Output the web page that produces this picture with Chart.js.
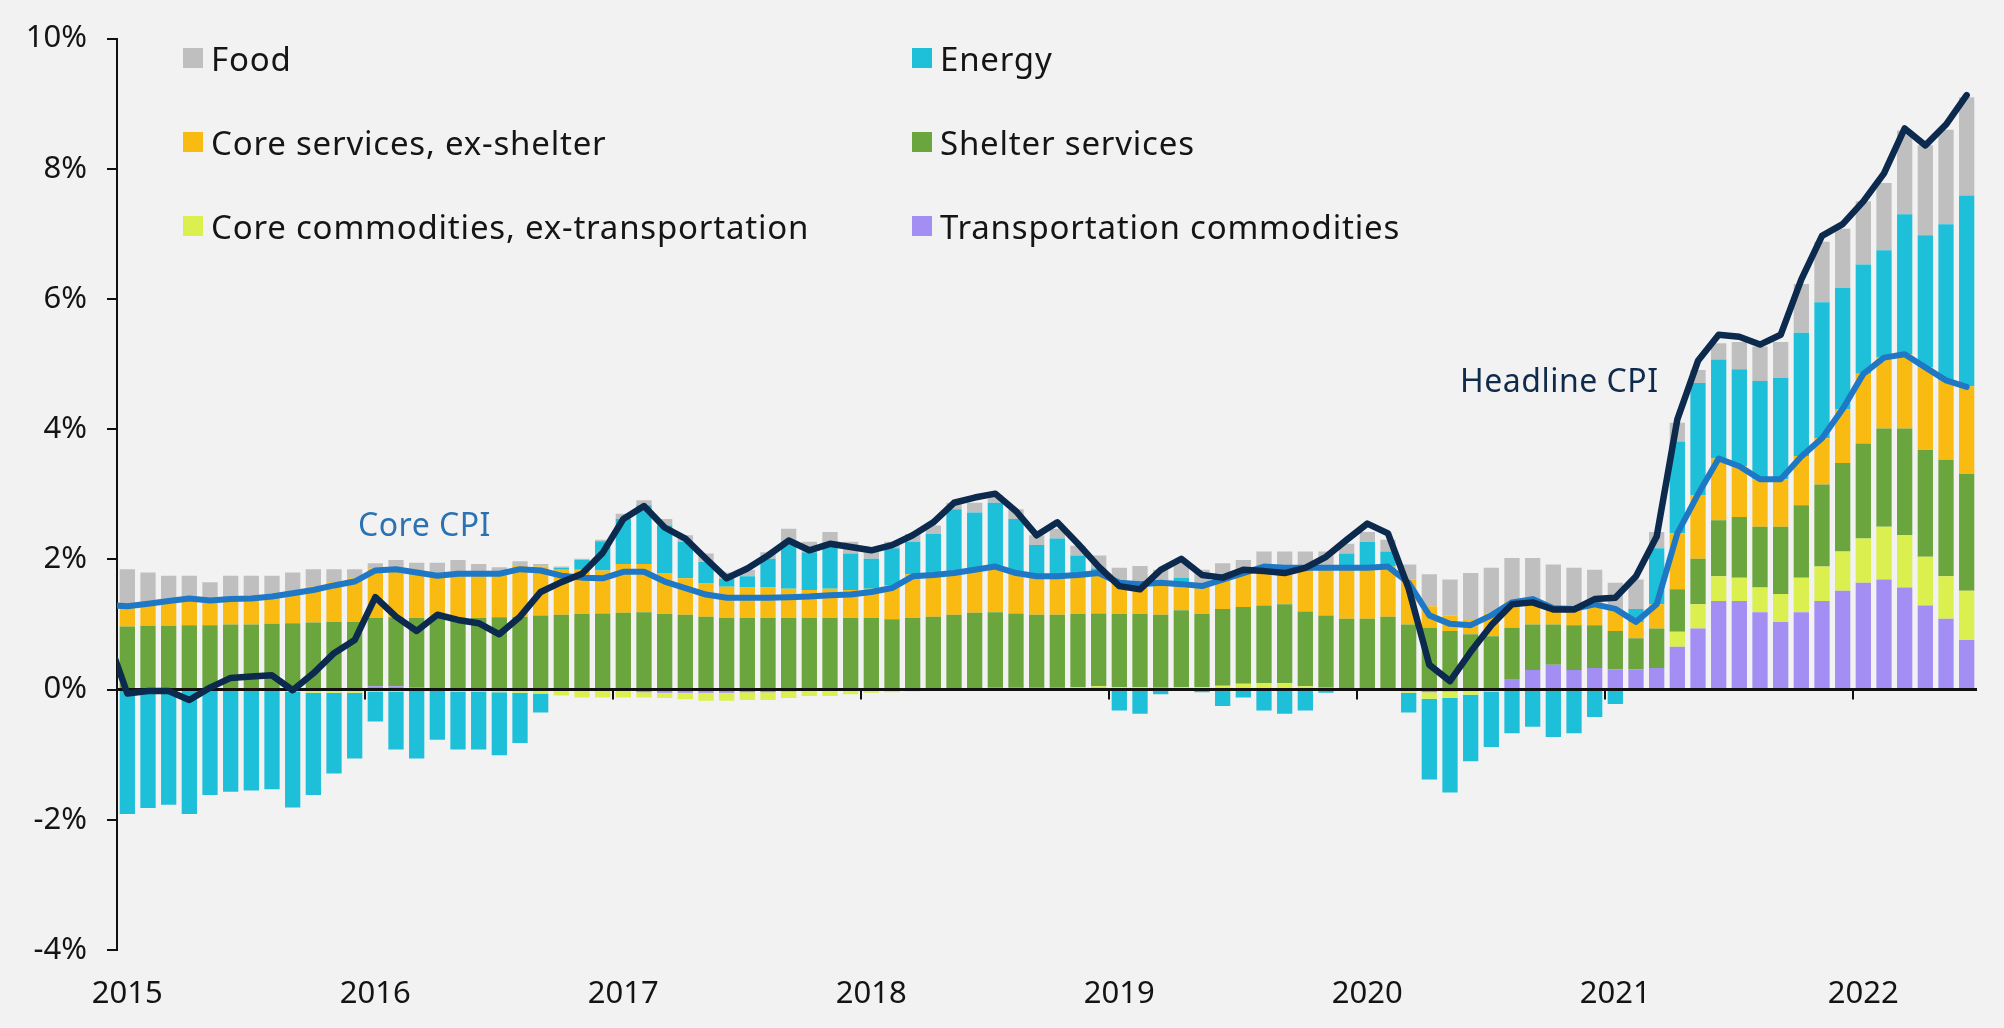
<!DOCTYPE html>
<html>
<head>
<meta charset="utf-8">
<script src="https://cdn.jsdelivr.net/npm/chart.js@4.4.1/dist/chart.umd.min.js"></script>
<style>
html,body{margin:0;padding:0;background:#f2f2f2;}
#wrap{position:relative;width:2004px;height:1028px;font-family:"Noto Sans",sans-serif;overflow:hidden;}
canvas{position:absolute;left:0;top:0;}
.leg{position:absolute;display:flex;align-items:center;height:40px;font-size:33px;color:#151515;white-space:nowrap;letter-spacing:0.8px;}
.leg i{display:inline-block;width:20px;height:20px;margin-right:8px;}
.note{position:absolute;font-size:32px;white-space:nowrap;line-height:1;letter-spacing:0.5px;}
</style>
</head>
<body>
<div id="wrap">
<canvas id="c" width="2004" height="1028"></canvas>
<div id="legend"></div>
<div class="note" style="left:1460px;top:364px;color:#0f2b4b;">Headline CPI</div>
<div class="note" style="left:358px;top:508px;color:#2a72b3;">Core CPI</div>
</div>
<script>
// Months (Dec 2014 only carries the start of the two lines; the axis begins at Jan 2015)
const months = ["Dec 2014",
"Jan 2015","Feb 2015","Mar 2015","Apr 2015","May 2015","Jun 2015","Jul 2015","Aug 2015","Sep 2015","Oct 2015","Nov 2015","Dec 2015",
"Jan 2016","Feb 2016","Mar 2016","Apr 2016","May 2016","Jun 2016","Jul 2016","Aug 2016","Sep 2016","Oct 2016","Nov 2016","Dec 2016",
"Jan 2017","Feb 2017","Mar 2017","Apr 2017","May 2017","Jun 2017","Jul 2017","Aug 2017","Sep 2017","Oct 2017","Nov 2017","Dec 2017",
"Jan 2018","Feb 2018","Mar 2018","Apr 2018","May 2018","Jun 2018","Jul 2018","Aug 2018","Sep 2018","Oct 2018","Nov 2018","Dec 2018",
"Jan 2019","Feb 2019","Mar 2019","Apr 2019","May 2019","Jun 2019","Jul 2019","Aug 2019","Sep 2019","Oct 2019","Nov 2019","Dec 2019",
"Jan 2020","Feb 2020","Mar 2020","Apr 2020","May 2020","Jun 2020","Jul 2020","Aug 2020","Sep 2020","Oct 2020","Nov 2020","Dec 2020",
"Jan 2021","Feb 2021","Mar 2021","Apr 2021","May 2021","Jun 2021","Jul 2021","Aug 2021","Sep 2021","Oct 2021","Nov 2021","Dec 2021",
"Jan 2022","Feb 2022","Mar 2022","Apr 2022","May 2022","Jun 2022"];

// Contributions (percentage points), Jan 2015 .. Jun 2022
const transportation = [
0,0,0,0,0,0,0,0,0,0,0,0,
0.05,0.05,0.03,0.02,0.01,0,0,0,0,-0.01,-0.02,-0.02,
-0.02,-0.04,-0.05,-0.05,-0.05,-0.05,-0.04,-0.04,-0.03,-0.02,-0.02,-0.01,
0,0,0,0,0.01,0.02,0.03,0.03,0.03,0.03,0.03,0.03,
0.02,0.02,0.01,0.01,0.01,0.01,0.01,0,0,0,0,0,
0,0,-0.02,-0.04,-0.03,0,0.02,0.15,0.3,0.38,0.3,0.33,
0.31,0.31,0.33,0.66,0.94,1.36,1.36,1.19,1.04,1.19,1.36,1.52,
1.64,1.69,1.57,1.29,1.09,0.76];

const coreCommodities = [
0,0,0,0,0,0,0,0,-0.03,-0.05,-0.05,-0.05,
-0.03,-0.03,-0.02,-0.02,-0.03,-0.03,-0.04,-0.05,-0.06,-0.08,-0.1,-0.1,
-0.1,-0.08,-0.08,-0.1,-0.12,-0.12,-0.12,-0.12,-0.1,-0.08,-0.08,-0.06,
-0.05,-0.04,-0.03,-0.02,-0.01,0,0,0,0,0,0.01,0.02,
0.02,0.02,0.02,0.03,0.03,0.05,0.08,0.1,0.1,0.05,0.03,0.02,
0,0,-0.03,-0.1,-0.1,-0.08,-0.03,0,0,0,0,0,
0,0,0,0.23,0.37,0.38,0.36,0.38,0.43,0.53,0.53,0.6,
0.68,0.81,0.8,0.75,0.65,0.76];

const shelter = [
0.97,0.98,0.98,0.99,0.99,1.0,1.0,1.01,1.02,1.03,1.04,1.04,
1.05,1.06,1.07,1.08,1.09,1.10,1.11,1.12,1.14,1.15,1.16,1.17,
1.18,1.19,1.16,1.15,1.12,1.10,1.10,1.10,1.10,1.10,1.10,1.10,
1.10,1.08,1.10,1.12,1.14,1.16,1.16,1.14,1.12,1.12,1.12,1.12,
1.12,1.12,1.12,1.18,1.12,1.18,1.18,1.19,1.21,1.15,1.11,1.07,
1.09,1.12,1.0,0.95,0.9,0.85,0.8,0.8,0.7,0.62,0.69,0.66,
0.59,0.48,0.61,0.65,0.70,0.86,0.93,0.93,1.03,1.11,1.26,1.36,
1.46,1.51,1.64,1.64,1.79,1.79];

const coreServices = [
0.31,0.34,0.38,0.41,0.38,0.39,0.40,0.42,0.49,0.55,0.61,0.67,
0.76,0.77,0.72,0.67,0.71,0.71,0.71,0.78,0.75,0.69,0.68,0.66,
0.75,0.74,0.63,0.56,0.51,0.48,0.47,0.47,0.45,0.43,0.45,0.43,
0.45,0.52,0.67,0.66,0.65,0.66,0.70,0.62,0.59,0.59,0.60,0.62,
0.48,0.46,0.49,0.40,0.43,0.45,0.52,0.60,0.56,0.67,0.73,0.78,
0.78,0.77,0.69,0.33,0.24,0.22,0.35,0.39,0.39,0.25,0.25,0.32,
0.34,0.25,0.37,0.86,0.98,0.95,0.78,0.73,0.73,0.76,0.71,0.83,
1.07,1.09,1.14,1.27,1.22,1.35];

const energy = [
-1.91,-1.82,-1.77,-1.91,-1.62,-1.57,-1.55,-1.53,-1.78,-1.57,-1.24,-1.01,
-0.46,-0.89,-1.04,-0.75,-0.89,-0.89,-0.97,-0.77,-0.29,0.03,0.15,0.45,
0.69,0.9,0.73,0.56,0.33,0.12,0.17,0.44,0.67,0.58,0.67,0.56,
0.46,0.57,0.5,0.61,0.97,0.88,0.98,0.83,0.48,0.58,0.30,0.07,
-0.32,-0.37,-0.07,0.1,-0.04,-0.25,-0.12,-0.32,-0.37,-0.32,-0.05,0.22,
0.4,0.23,-0.3,-1.24,-1.45,-1.02,-0.85,-0.67,-0.57,-0.73,-0.67,-0.42,
-0.22,0.2,0.86,1.41,1.72,1.52,1.49,1.51,1.56,1.89,2.09,1.86,
1.68,1.65,2.15,2.03,2.4,2.93];

const food = [
0.57,0.48,0.39,0.35,0.28,0.36,0.35,0.32,0.29,0.27,0.2,0.14,
0.08,0.11,0.13,0.18,0.18,0.12,0.06,0.07,0.04,0.02,0.02,0.02,
0.08,0.08,0.1,0.1,0.13,0.1,0.1,0.1,0.25,0.16,0.2,0.18,
0.12,0.1,0.12,0.13,0.1,0.15,0.12,0.15,0.15,0.15,0.15,0.2,
0.23,0.28,0.2,0.25,0.25,0.25,0.2,0.23,0.25,0.25,0.25,0.15,
0.15,0.18,0.23,0.49,0.55,0.72,0.7,0.68,0.63,0.67,0.63,0.53,
0.4,0.45,0.25,0.29,0.2,0.25,0.42,0.53,0.55,0.75,0.93,0.91,
0.97,1.03,1.29,1.38,1.45,1.51];

// Lines, Dec 2014 .. Jun 2022
const headlineCPI = [0.84,
-0.06,-0.02,-0.02,-0.16,0.03,0.18,0.2,0.22,-0.01,0.25,0.56,0.76,
1.42,1.12,0.9,1.15,1.07,1.02,0.85,1.12,1.5,1.65,1.78,2.1,
2.62,2.82,2.49,2.32,2.01,1.71,1.86,2.06,2.29,2.14,2.24,2.19,
2.14,2.22,2.37,2.57,2.87,2.95,3.01,2.74,2.37,2.57,2.24,1.89,
1.59,1.54,1.84,2.01,1.76,1.72,1.84,1.82,1.79,1.87,2.04,2.3,
2.55,2.4,1.55,0.38,0.13,0.58,0.99,1.31,1.34,1.23,1.23,1.39,
1.41,1.74,2.35,4.15,5.05,5.45,5.42,5.3,5.45,6.3,6.97,7.15,
7.5,7.93,8.62,8.36,8.68,9.13];

const coreCPI = [1.3,
1.28,1.32,1.36,1.40,1.37,1.39,1.40,1.43,1.48,1.53,1.60,1.66,
1.83,1.85,1.80,1.75,1.78,1.78,1.78,1.85,1.83,1.75,1.72,1.71,
1.81,1.81,1.66,1.56,1.46,1.41,1.41,1.41,1.42,1.43,1.45,1.46,
1.50,1.56,1.74,1.76,1.79,1.84,1.89,1.79,1.74,1.74,1.76,1.79,
1.64,1.62,1.64,1.62,1.59,1.69,1.79,1.89,1.87,1.87,1.87,1.87,
1.87,1.89,1.64,1.14,1.01,0.99,1.14,1.34,1.39,1.25,1.24,1.31,
1.24,1.04,1.31,2.40,3.0,3.55,3.43,3.23,3.23,3.58,3.86,4.31,
4.85,5.1,5.15,4.95,4.75,4.65];

const yTicks = [-4, -2, 0, 2, 4, 6, 8, 10];

const barSeries = [
  {name: "Transportation commodities", data: transportation, color: "#a38ef4"},
  {name: "Core commodities, ex-transportation", data: coreCommodities, color: "#dbef4e"},
  {name: "Shelter services", data: shelter, color: "#6ba53d"},
  {name: "Core services, ex-shelter", data: coreServices, color: "#f9ba12"},
  {name: "Energy", data: energy, color: "#1ec0d9"},
  {name: "Food", data: food, color: "#bfbfbf"}
];
const colorOf = n => barSeries.find(s => s.name === n).color;

// HTML legend (two columns, three rows)
const legendRows = [["Food", "Energy"], ["Core services, ex-shelter", "Shelter services"],
  ["Core commodities, ex-transportation", "Transportation commodities"]];
const legendEl = document.getElementById('legend');
legendRows.forEach((row, r) => {
  row.forEach((name, c) => {
    const d = document.createElement('div');
    d.className = 'leg';
    d.style.left = (c === 0 ? 183 : 912) + 'px';
    d.style.top = (38 + r * 84) + 'px';
    d.innerHTML = '<i style="background:' + colorOf(name) + '"></i>';
    d.appendChild(document.createTextNode(name));
    legendEl.appendChild(d);
  });
});

function drawZero(chart) {
  const {ctx, chartArea, scales} = chart;
  const x = scales.x, y = scales.y;
  const y0 = y.getPixelForValue(0);
  ctx.save();
  ctx.strokeStyle = '#111';
  ctx.lineWidth = 3;
  ctx.beginPath();
  ctx.moveTo(chartArea.left, y0);
  ctx.lineTo(chartArea.right, y0);
  ctx.stroke();
  ctx.lineWidth = 2;
  months.forEach((m, i) => {
    if (i < 2 || m.indexOf('Jan') !== 0) return;
    const px = (x.getPixelForValue(i - 1) + x.getPixelForValue(i)) / 2;
    ctx.beginPath();
    ctx.moveTo(px, y0);
    ctx.lineTo(px, y0 + 10);
    ctx.stroke();
  });
  ctx.restore();
}
const zeroPlugin = {
  id: 'zeroAxis',
  beforeDatasetsDraw(chart) { chart.$zeroDone = false; },
  beforeDatasetDraw(chart, args) {
    if (chart.$zeroDone || args.meta.type !== 'line') return;
    chart.$zeroDone = true;
    drawZero(chart);
  },
  afterDatasetsDraw(chart) { if (!chart.$zeroDone) { drawZero(chart); chart.$zeroDone = true; } }
};

const datasets = barSeries.map(s => ({
  type: 'bar',
  label: s.name,
  data: [null].concat(s.data),
  backgroundColor: s.color,
  borderWidth: 0,
  stack: 'cpi',
  order: 2,
  barPercentage: 0.74,
  categoryPercentage: 1.0
}));
datasets.push({
  type: 'line', label: 'Core CPI', data: coreCPI, stack: 'core', order: 1,
  borderColor: '#1f78c6', borderWidth: 6, pointRadius: 0, tension: 0,
  borderJoinStyle: 'round', borderCapStyle: 'round', clip: 0
});
datasets.push({
  type: 'line', label: 'Headline CPI', data: headlineCPI, stack: 'headline', order: 0,
  borderColor: '#0b2a4d', borderWidth: 6.5, pointRadius: 0, tension: 0,
  borderJoinStyle: 'round', borderCapStyle: 'round', clip: 0
});

const tickFont = {family: 'Noto Sans', size: 31};
new Chart(document.getElementById('c').getContext('2d'), {
  type: 'bar',
  data: {labels: months, datasets: datasets},
  options: {
    responsive: false,
    animation: false,
    devicePixelRatio: 1,
    layout: {padding: {left: 0, right: 27, top: 18, bottom: 0}},
    plugins: {legend: {display: false}, tooltip: {enabled: false}},
    scales: {
      x: {
        type: 'category',
        min: 'Jan 2015',
        offset: true,
        grid: {display: false, drawTicks: false},
        border: {display: false},
        ticks: {
          autoSkip: false, maxRotation: 0, minRotation: 0, padding: 26, color: '#141414', font: tickFont,
          callback: function (v) { const l = this.getLabelForValue(v); return l.indexOf('Jan') === 0 ? l.slice(4) : ''; }
        },
        afterFit(s) { s.height = 78; }
      },
      y: {
        stacked: true,
        min: yTicks[0],
        max: yTicks[yTicks.length - 1],
        afterBuildTicks(s) { s.ticks = yTicks.map(v => ({value: v})); },
        ticks: {padding: 20, color: '#141414', font: tickFont, callback: v => v + '%'},
        grid: {drawOnChartArea: false, color: '#111', lineWidth: 2, tickLength: 10, tickColor: '#111', tickWidth: 2},
        border: {display: true, color: '#111', width: 2},
        afterFit(s) { s.width = 117; }
      }
    }
  },
  plugins: [zeroPlugin]
});
</script>
</body>
</html>
